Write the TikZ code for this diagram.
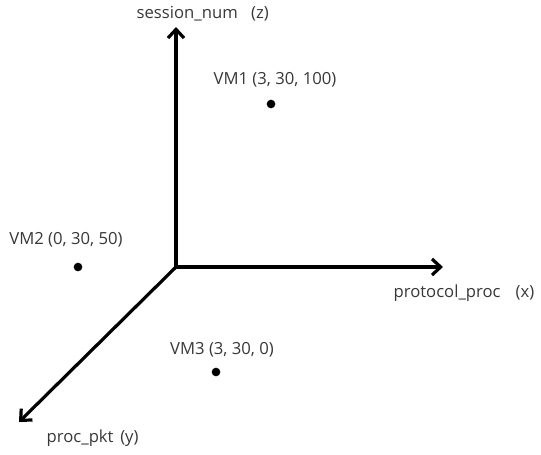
\documentclass[tikz,border=0pt]{standalone}
\usepackage{fontspec}
\setmainfont{Open Sans}
\usetikzlibrary{arrows.meta,positioning}

\begin{document}
\begin{tikzpicture}[x=0.75pt,y=-0.75pt,
                    axis/.style={draw,line width=2.4pt,-{Straight Barb[length=6.5pt,width=12pt,line width=2.4pt]}},
                    vmdot/.style={circle,fill,inner sep=0pt,minimum size=6.5pt},
                    lbl/.style={text=black!78,font=\fontsize{12.5}{14}\selectfont,inner sep=1pt}
]
\useasboundingbox (0,0) rectangle (541,454);

\coordinate (O) at (176,267);
\coordinate (z) at (176,27);
\coordinate (x) at (443,267);
\coordinate (y) at (19,422);
%
\draw[axis] (O) -- (z);
\draw[axis] (O) -- (x);
\draw[axis] (O) -- (y);
%
\node[lbl,anchor=west] (zlab) at (135,14) {session\_num\hspace{0.8em}(z)};
\node[lbl,anchor=west] (xlab) at (392,293) {protocol\_proc\hspace{0.9em}(x)};
\node[lbl,anchor=west] (ylab) at (45,438) {proc\_pkt\hspace{0.4em}(y)};
%
\node[vmdot] (vm1) at (271,104) {};
\node[vmdot] (vm2) at (78,267) {};
\node[vmdot] (vm3) at (216,372) {};
\node[lbl] (vm1lab) at (275,80) {VM1 (3,\ 30,\ 100)};
\node[lbl] (vm2lab) at (66,240) {VM2 (0,\ 30,\ 50)};
\node[lbl] (vm3lab) at (222,350) {VM3 (3,\ 30,\ 0)};
\end{tikzpicture}
\end{document}
